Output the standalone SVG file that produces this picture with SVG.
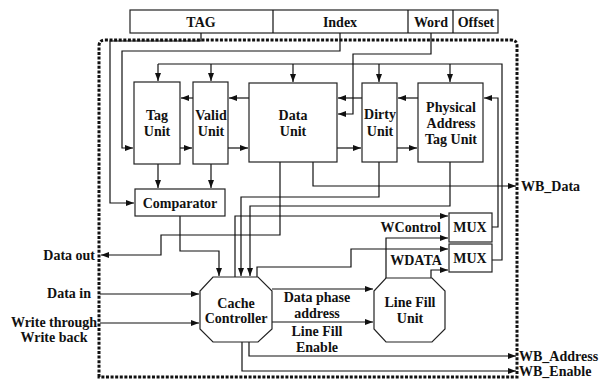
<svg xmlns="http://www.w3.org/2000/svg" width="600" height="381" viewBox="0 0 600 381">
<style>
text{font-family:"Liberation Serif","Times New Roman",serif;font-weight:bold;font-size:14px;fill:#111}
.m{text-anchor:middle}
.e{text-anchor:end}
.box{fill:#fff;stroke:#222;stroke-width:1.2}
.w{fill:none;stroke:#111;stroke-width:1.2}
.a{marker-end:url(#ah)}
.border{fill:none;stroke:#111;stroke-width:3;stroke-dasharray:3 1.6}
</style>
<defs>
<marker id="ah" markerUnits="userSpaceOnUse" markerWidth="9" markerHeight="7" refX="8" refY="3" orient="auto">
<path d="M0,0 L8,3 L0,6 z" fill="#111"/>
</marker>
</defs>
<rect width="600" height="381" fill="#fff"/>

<g id="address">
<rect class="box" x="130" y="10" width="368" height="23"/>
<path class="w" d="M273,10V33M408,10V33M453,10V33"/>
<text class="m" x="201" y="27">TAG</text>
<text class="m" x="340" y="27">Index</text>
<text class="m" x="431" y="27">Word</text>
<text class="m" x="476" y="27">Offset</text>
</g>

<path id="boundary" class="border" d="M99,377V46Q99,40 105,40H511Q517,40 517,46V377H99Z"/>

<g id="connectors">
<path class="w a" d="M201,33V41H110V203H134"/>
<path class="w a" d="M340,33V51H122V148H133"/>
<path class="w a" d="M431,33V54H353V114H338"/>
<path class="w" d="M158,64H502V260H492"/>
<path class="w a" d="M158,64V81"/>
<path class="w a" d="M211,64V81"/>
<path class="w a" d="M293,64V82"/>
<path class="w a" d="M379,64V82"/>
<path class="w a" d="M450,64V82"/>
<path class="w a" d="M193,98H181"/>
<path class="w a" d="M249,98H229"/>
<path class="w a" d="M362,98H338"/>
<path class="w a" d="M418,98H398"/>
<path class="w a" d="M180,148H192"/>
<path class="w a" d="M228,148H248"/>
<path class="w a" d="M337,148H361"/>
<path class="w a" d="M397,148H417"/>
<path class="w a" d="M158,164V188"/>
<path class="w a" d="M211,164V188"/>
<path class="w a" d="M180,216V251H219V276"/>
<path class="w a" d="M280,162V235H161V255H101"/>
<path class="w a" d="M313,162V186H516"/>
<path class="w a" d="M379,162V197H241V276"/>
<path class="w a" d="M450,162V206H250V276"/>
<path class="w a" d="M235,277V216H448"/>
<path class="w a" d="M257,277V267H351V249H448"/>
<path class="w a" d="M386,278V238H448"/>
<path class="w a" d="M431,278V270H448"/>
<path class="w a" d="M492,227H498V98H484"/>
<path class="w a" d="M100,294H199"/>
<path class="w a" d="M100,323H199"/>
<path class="w a" d="M272,289H373"/>
<path class="w a" d="M272,322H373"/>
<path class="w a" d="M249,342V356H516"/>
<path class="w a" d="M242,342V371H516"/>
</g>

<g id="tag-unit">
<rect class="box" x="134" y="82" width="46" height="82"/>
<text class="m" x="157" y="120">Tag</text>
<text class="m" x="157" y="136">Unit</text>
</g>
<g id="valid-unit">
<rect class="box" x="193" y="82" width="35" height="82"/>
<text class="m" x="211" y="120">Valid</text>
<text class="m" x="211" y="136">Unit</text>
</g>
<g id="data-unit">
<rect class="box" x="249" y="83" width="88" height="79"/>
<text class="m" x="293" y="120">Data</text>
<text class="m" x="293" y="136">Unit</text>
</g>
<g id="dirty-unit">
<rect class="box" x="362" y="83" width="35" height="79"/>
<text class="m" x="380" y="119">Dirty</text>
<text class="m" x="380" y="136">Unit</text>
</g>
<g id="pa-tag-unit">
<rect class="box" x="418" y="83" width="65" height="79"/>
<text class="m" x="451" y="112">Physical</text>
<text class="m" x="451" y="128">Address</text>
<text class="m" x="451" y="144">Tag Unit</text>
</g>
<g id="comparator">
<rect class="box" x="135" y="189" width="90" height="27"/>
<text class="m" x="180" y="208">Comparator</text>
</g>
<g id="mux1">
<rect class="box" x="449" y="213" width="43" height="29"/>
<text class="m" x="470" y="232">MUX</text>
</g>
<g id="mux2">
<rect class="box" x="449" y="244" width="43" height="28"/>
<text class="m" x="470" y="263">MUX</text>
</g>
<g id="cache-controller">
<polygon class="box" points="213,277 258,277 272,291 272,329 258,342 213,342 200,329 200,291"/>
<text class="m" x="236" y="308">Cache</text>
<text class="m" x="236" y="323">Controller</text>
</g>
<g id="line-fill-unit">
<polygon class="box" points="386,278 432,278 445,291 445,329 432,342 386,342 374,329 374,291"/>
<text class="m" x="410" y="307">Line Fill</text>
<text class="m" x="410" y="323">Unit</text>
</g>

<g id="labels">
<text class="e" x="95" y="260">Data out</text>
<text class="e" x="91" y="298">Data in</text>
<text class="m" x="54" y="327">Write through</text>
<text class="m" x="54" y="342">Write back</text>
<text class="m" x="317" y="302">Data phase</text>
<text class="m" x="317" y="318">address</text>
<text class="m" x="317" y="336">Line Fill</text>
<text class="m" x="317" y="352">Enable</text>
<text class="e" x="441" y="232">WControl</text>
<text class="m" x="416" y="265">WDATA</text>
<text x="521" y="191">WB_Data</text>
<text x="519" y="361">WB_Address</text>
<text x="519" y="376">WB_Enable</text>
</g>
</svg>
